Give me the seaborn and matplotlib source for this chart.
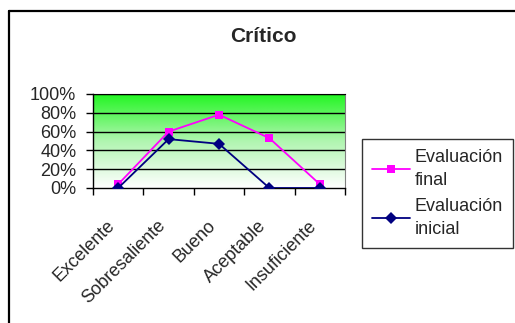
import matplotlib
matplotlib.use("Agg")
import matplotlib.pyplot as plt
from matplotlib.lines import Line2D
from matplotlib.ticker import FixedLocator, PercentFormatter
import numpy as np
import pandas as pd
import seaborn as sns

# datos
categorias = ["Excelente", "Sobresaliente", "Bueno", "Aceptable", "Insuficiente"]
eval_final = [4, 60, 78, 53, 4]
eval_inicial = [0, 52, 47, 0, 0]
series = ["Evaluación\nfinal", "Evaluación\ninicial"]

df = pd.DataFrame({
    "categoria": categorias * 2,
    "valor": eval_final + eval_inicial,
    "serie": [series[0]] * 5 + [series[1]] * 5,
})

sns.set_style("white")
plt.rcParams["font.family"] = ["Liberation Sans", "DejaVu Sans"]

W, H = 515, 323
fig = plt.figure(figsize=(W / 100, H / 100), dpi=100)
ax = fig.add_axes([93 / W, 1 - 188 / H, (345 - 93) / W, (188 - 94) / H])

# fondo degradado verde -> blanco
grad = np.linspace(0, 1, 256).reshape(-1, 1)
cmap = matplotlib.colors.LinearSegmentedColormap.from_list(
    "g", ["#ffffff", "#b0f5b0", "#22f522"])
ax.imshow(grad, aspect="auto", cmap=cmap, origin="lower",
          extent=[0, 1, 0, 1], transform=ax.transAxes, zorder=0)

colores = {series[0]: "#ff00ff", series[1]: "#000080"}
marcadores = {series[0]: "s", series[1]: "D"}
sns.lineplot(data=df, x="categoria", y="valor", hue="serie", style="serie",
             palette=colores, markers=marcadores, dashes=False, ax=ax,
             markersize=6, markeredgewidth=0, linewidth=1.3, legend=False,
             zorder=3)

ax.set_xlim(-0.5, len(categorias) - 0.5)
ax.set_ylim(0, 100)
ax.set_xlabel("")
ax.set_ylabel("")

# rejilla horizontal
ax.yaxis.set_major_locator(FixedLocator([0, 20, 40, 60, 80, 100]))
ax.yaxis.set_major_formatter(PercentFormatter(decimals=0))
for v in [20, 40, 60, 80, 100]:
    ax.axhline(v, color="black", linewidth=1, zorder=1)

# marcas entre categorías, etiquetas en el centro
ax.set_xticks(np.arange(-0.5, len(categorias), 1.0))
ax.set_xticklabels([])
ax.set_xticks(range(len(categorias)), minor=True)
ax.set_xticklabels(categorias, minor=True, rotation=45, ha="right", va="top")
ax.tick_params(axis="x", which="major", direction="out", length=5, width=1,
               color="black", bottom=True)
ax.tick_params(axis="x", which="minor", length=0, pad=21, labelsize=13)
ax.tick_params(axis="y", direction="out", length=5, width=1, color="black",
               left=True, pad=7, labelsize=13)

for lado in ["left", "bottom"]:
    ax.spines[lado].set_color("black")
    ax.spines[lado].set_linewidth(1)
ax.spines["right"].set_color("#808080")
ax.spines["top"].set_color("black")

fig.text(263 / W, 1 - 36 / H, "Crítico", ha="center", va="center",
         fontsize=15, fontweight="bold")

handles = [Line2D([], [], color=colores[s], marker=marcadores[s], markersize=6,
                  markeredgewidth=0, linewidth=1.3) for s in series]
leg = fig.legend(handles, series, loc="upper left",
                 bbox_to_anchor=(362 / W, 1 - 139 / H), fontsize=13,
                 frameon=True, fancybox=False, edgecolor="black",
                 handlelength=2.1, handletextpad=0.28, borderpad=0.55,
                 borderaxespad=0, labelspacing=0.5)
leg.get_frame().set_linewidth(1)
for t in leg.get_texts():
    t.set_linespacing(1.45)

# borde del área del gráfico (solo arriba e izquierda visibles)
fig.add_artist(Line2D([8.5 / W, 8.5 / W], [0, 1 - 11 / H], color="black",
                      linewidth=1.6, transform=fig.transFigure))
fig.add_artist(Line2D([8.5 / W, 1], [1 - 11 / H, 1 - 11 / H], color="black",
                      linewidth=1.6, transform=fig.transFigure))

fig.savefig("out.png", dpi=100)
